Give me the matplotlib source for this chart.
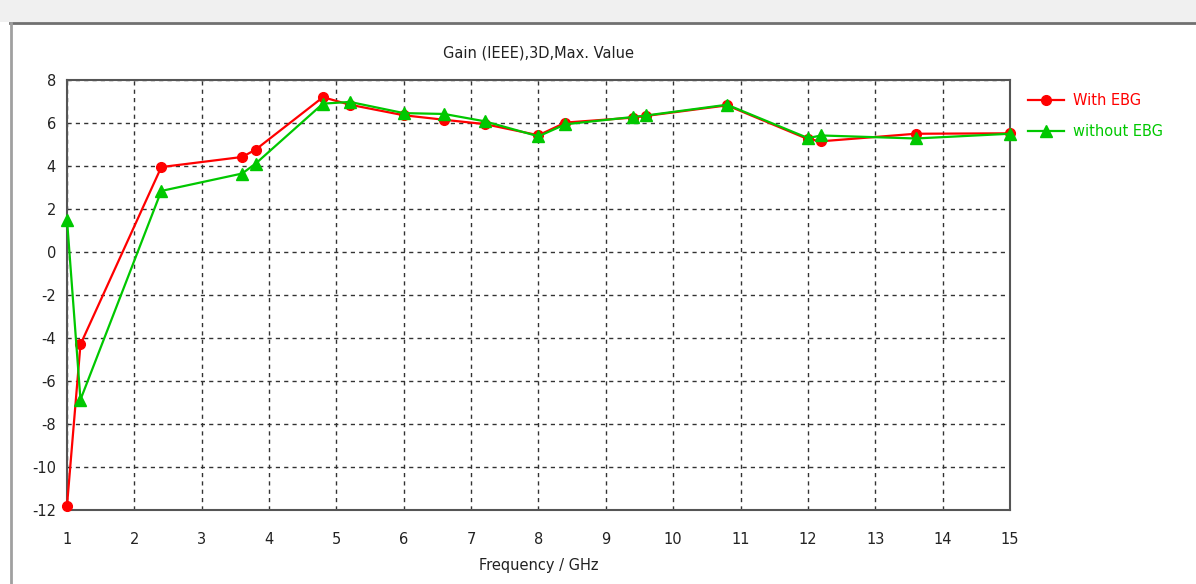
import matplotlib
matplotlib.use("Agg")
import matplotlib.pyplot as plt
from matplotlib.patches import Rectangle
from matplotlib.lines import Line2D

freq_with = [1.0, 1.2, 2.4, 3.6, 3.8, 4.8, 5.2, 6.0, 6.6, 7.2, 8.0, 8.4, 9.4, 9.6, 10.8, 12.0, 12.2, 13.6, 15.0]
gain_with = [-11.8, -4.3, 3.95, 4.42, 4.76, 7.2, 6.85, 6.36, 6.15, 5.95, 5.43, 6.02, 6.25, 6.33, 6.82, 5.25, 5.15, 5.5, 5.52]
freq_without = [1.0, 1.2, 2.4, 3.6, 3.8, 4.8, 5.2, 6.0, 6.6, 7.2, 8.0, 8.4, 9.4, 9.6, 10.8, 12.0, 12.2, 13.6, 15.0]
gain_without = [1.5, -6.87, 2.84, 3.65, 4.11, 6.9, 6.98, 6.46, 6.42, 6.08, 5.38, 5.94, 6.28, 6.35, 6.85, 5.3, 5.42, 5.28, 5.5]
xticks = list(range(1, 16))
yticks = list(range(-12, 9, 2))

RED = "#ff0000"
GREEN = "#00c800"

plt.rcParams['font.family'] = ['DejaVu Sans']
plt.rcParams['axes.unicode_minus'] = False
fig = plt.figure(figsize=(11.96, 5.84), dpi=100)
fig.patch.set_facecolor("white")

# window-like frame
fig.patches.append(Rectangle((0, 1 - 22/584), 1, 22/584, transform=fig.transFigure,
                             facecolor="#f0f0f0", edgecolor="none", zorder=0))
fig.lines.append(Line2D([10/1196, 1], [1 - 23/584, 1 - 23/584], transform=fig.transFigure,
                        color="#707070", lw=2))
fig.lines.append(Line2D([11/1196, 11/1196], [0, 1 - 23/584], transform=fig.transFigure,
                        color="#a0a0a0", lw=2))

ax = fig.add_axes([67/1196, 1 - 510/584, (1010 - 67)/1196, (510 - 80)/584])
ax.plot(freq_with, gain_with, color=RED, lw=1.6, marker="o", ms=7, label="With EBG",
        zorder=3, clip_on=False)
ax.plot(freq_without, gain_without, color=GREEN, lw=1.6, marker="^", ms=8, label="without EBG",
        zorder=4, clip_on=False)

ax.set_xlim(1, 15)
ax.set_ylim(-12, 8)
ax.set_xticks(xticks)
ax.set_yticks(yticks)
ax.grid(True, color="#333333", linestyle=(0, (3, 3)), lw=1)
ax.tick_params(length=0, labelsize=10.5, colors="#222222")
ax.tick_params(axis="x", pad=15.5)
ax.tick_params(axis="y", pad=8)
for s in ax.spines.values():
    s.set_color("#555555")
    s.set_linewidth(1.5)

ax.set_title("Gain (IEEE),3D,Max. Value", fontsize=10.5, pad=16, color="#222222")
ax.set_xlabel("Frequency / GHz", fontsize=10.5, labelpad=8.5, color="#222222")

leg = ax.legend(loc="upper left", bbox_to_anchor=(1.005, 1.0), frameon=False,
                fontsize=10.5, handlelength=2.5, handletextpad=0.6,
                labelspacing=1.1, borderaxespad=0.5)
for txt, c in zip(leg.get_texts(), [RED, GREEN]):
    txt.set_color(c)

fig.savefig("out.png", dpi=100)
